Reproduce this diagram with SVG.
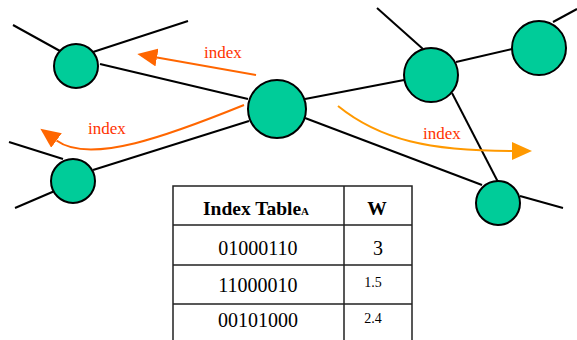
<svg xmlns="http://www.w3.org/2000/svg" width="577" height="340" viewBox="0 0 577 340">
<style>
.edge{stroke:#000;stroke-width:2;fill:none}
.node{fill:#00CC99;stroke:#000;stroke-width:2}
.lbl{font-family:"Liberation Serif",serif;font-size:17px;fill:#FF3300}
.tbl{stroke:#222;stroke-width:1.5;fill:none}
.cell{font-family:"Liberation Serif",serif;font-size:20px;fill:#000;text-anchor:middle}
.hdr{font-family:"Liberation Serif",serif;font-size:19.5px;font-weight:bold;fill:#000;text-anchor:middle}
.small{font-family:"Liberation Serif",serif;font-size:14px;fill:#000;text-anchor:middle}
</style>
<defs>
<marker id="ahR" viewBox="0 0 20 18" refX="0" refY="9" markerWidth="20" markerHeight="18" markerUnits="userSpaceOnUse" orient="auto"><path d="M0,0 L20,9 L0,18 z" fill="#FF6600"/></marker>
<marker id="ahO" viewBox="0 0 20 18" refX="0" refY="9" markerWidth="20" markerHeight="18" markerUnits="userSpaceOnUse" orient="auto"><path d="M0,0 L20,9 L0,18 z" fill="#FF9900"/></marker>
</defs>
<rect width="577" height="340" fill="#fff"/>
<g id="connectors">
<line class="edge" x1="13" y1="25" x2="60" y2="51"/>
<line class="edge" x1="93" y1="52" x2="188" y2="21"/>
<line class="edge" x1="100" y1="64" x2="248" y2="99"/>
<line class="edge" x1="9" y1="142" x2="63" y2="159"/>
<line class="edge" x1="15" y1="208" x2="57" y2="190"/>
<line class="edge" x1="93" y1="170" x2="249" y2="121"/>
<line class="edge" x1="305" y1="99" x2="404" y2="80"/>
<line class="edge" x1="456" y1="62" x2="512" y2="49"/>
<line class="edge" x1="553" y1="22" x2="577" y2="9"/>
<line class="edge" x1="377" y1="8" x2="423" y2="49"/>
<line class="edge" x1="452" y1="93" x2="498" y2="182"/>
<line class="edge" x1="305" y1="118" x2="482" y2="185"/>
<line class="edge" x1="520" y1="196" x2="563" y2="208"/>
<path d="M256,75 L157,57.5" stroke="#FF6600" stroke-width="2" fill="none" marker-end="url(#ahR)"/>
<path d="M244,105 C170,135 90,165 56.5,140.5" stroke="#FF6600" stroke-width="2" fill="none" marker-end="url(#ahR)"/>
<path d="M338,106 C380,140 430,151 512,151" stroke="#FF9900" stroke-width="2" fill="none" marker-end="url(#ahO)"/>
</g>
<text class="lbl" x="204" y="58">index</text>
<text class="lbl" x="88" y="134">index</text>
<text class="lbl" x="423" y="139">index</text>
<g id="n1"><circle class="node" cx="76" cy="66" r="22"/></g>
<g id="n2"><circle class="node" cx="73" cy="181" r="22"/></g>
<g id="n3"><circle class="node" cx="277" cy="109" r="29"/></g>
<g id="n4"><circle class="node" cx="431" cy="75" r="27"/></g>
<g id="n5"><circle class="node" cx="539" cy="48" r="27"/></g>
<g id="n6"><circle class="node" cx="498" cy="203" r="22"/></g>
<g id="table">
<path class="tbl" d="M173,345 V186 H412 V345 M344,186 V345 M173,225 H412 M173,265 H412 M173,304 H412"/>
<text class="hdr" x="256" y="215">Index Table<tspan font-size="11">A</tspan></text>
<text class="hdr" x="377" y="215">W</text>
<text class="cell" x="258" y="255">01000110</text>
<text class="cell" x="378" y="255">3</text>
<text class="cell" x="258" y="292">11000010</text>
<text class="small" x="373" y="287">1.5</text>
<text class="cell" x="258" y="327">00101000</text>
<text class="small" x="373" y="323">2.4</text>
</g>
</svg>
